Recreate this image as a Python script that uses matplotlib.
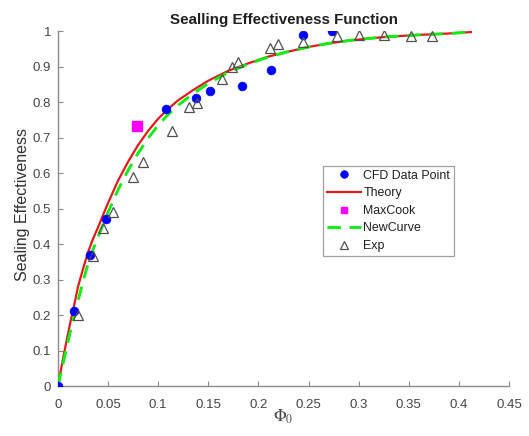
import matplotlib
matplotlib.use("Agg")
import matplotlib.pyplot as plt

plt.rcParams['font.family'] = ['Liberation Sans', 'DejaVu Sans']
plt.rcParams['mathtext.fontset'] = 'stix'

# CFD data points
cfd_x = [0.0, 0.016, 0.032, 0.048, 0.108, 0.138, 0.152, 0.184, 0.213, 0.244, 0.273]
cfd_y = [0.0, 0.21, 0.368, 0.47, 0.78, 0.81, 0.83, 0.845, 0.89, 0.99, 1.0]

# Theory curve
theory_x = [0, 0.004, 0.008, 0.012, 0.016, 0.02, 0.025, 0.03, 0.035, 0.04, 0.045, 0.05,
            0.06, 0.07, 0.08, 0.09, 0.1, 0.11, 0.12, 0.135, 0.15, 0.17, 0.19, 0.21,
            0.23, 0.25, 0.27, 0.29, 0.31, 0.33, 0.36, 0.39, 0.412]
theory_y = [0, 0.062, 0.12, 0.175, 0.226, 0.28, 0.33, 0.377, 0.415, 0.447, 0.482, 0.516,
            0.579, 0.632, 0.679, 0.719, 0.753, 0.781, 0.805, 0.834, 0.86, 0.888, 0.909, 0.928,
            0.942, 0.955, 0.965, 0.973, 0.979, 0.984, 0.989, 0.993, 0.997]

# New curve
new_x = [0, 0.004, 0.008, 0.012, 0.016, 0.02, 0.025, 0.03, 0.035, 0.04, 0.045, 0.05,
         0.06, 0.07, 0.08, 0.09, 0.1, 0.11, 0.12, 0.135, 0.15, 0.17, 0.19, 0.21,
         0.23, 0.25, 0.27, 0.29, 0.31, 0.33, 0.36, 0.39, 0.412]
new_y = [0, 0.05, 0.10, 0.15, 0.195, 0.24, 0.295, 0.345, 0.385, 0.42, 0.455, 0.49,
         0.553, 0.608, 0.656, 0.698, 0.735, 0.765, 0.791, 0.824, 0.852, 0.884, 0.907, 0.927,
         0.942, 0.955, 0.965, 0.973, 0.979, 0.984, 0.989, 0.993, 0.997]

# MaxCook point
maxcook_x = [0.079]
maxcook_y = [0.732]

# Experimental points
exp_x = [0.02, 0.035, 0.045, 0.055, 0.075, 0.085, 0.114, 0.131, 0.139, 0.164, 0.174,
         0.18, 0.212, 0.22, 0.244, 0.278, 0.30, 0.325, 0.352, 0.373]
exp_y = [0.20, 0.366, 0.445, 0.49, 0.59, 0.63, 0.718, 0.786, 0.797, 0.865, 0.90,
         0.913, 0.953, 0.963, 0.969, 0.986, 0.988, 0.989, 0.986, 0.985]

x_ticks = [0, 0.05, 0.1, 0.15, 0.2, 0.25, 0.3, 0.35, 0.4, 0.45]
x_tick_labels = ['0', '0.05', '0.1', '0.15', '0.2', '0.25', '0.3', '0.35', '0.4', '0.45']
y_ticks = [0, 0.1, 0.2, 0.3, 0.4, 0.5, 0.6, 0.7, 0.8, 0.9, 1]
y_tick_labels = ['0', '0.1', '0.2', '0.3', '0.4', '0.5', '0.6', '0.7', '0.8', '0.9', '1']

W, H = 529, 436
fig = plt.figure(figsize=(W / 100, H / 100), dpi=100)
ax = fig.add_axes([58 / W, 50 / H, (509 - 58) / W, (386 - 31) / H])

ax.plot(cfd_x, cfd_y, 'o', color='#0000ff', markersize=6.3, markeredgewidth=0.5,
        label='CFD Data Point', zorder=5)
ax.plot(theory_x, theory_y, '-', color='#e41a1c', linewidth=1.6, label='Theory', zorder=3)
ax.plot(maxcook_x, maxcook_y, 's', color='#ff00ff', markersize=7.8, label='MaxCook', zorder=5)
ax.plot(new_x, new_y, '--', color='#11ee11', linewidth=2.1, dashes=(4.6, 3.0),
        label='NewCurve', zorder=4)
ax.plot(exp_x, exp_y, '^', markerfacecolor='none', markeredgecolor='#505050', markersize=7.8,
        markeredgewidth=0.9, label='Exp', zorder=6)

ax.set_xlim(0, 0.45)
ax.set_ylim(0, 1)
ax.set_xticks(x_ticks)
ax.set_xticklabels(x_tick_labels)
ax.set_yticks(y_ticks)
ax.set_yticklabels(y_tick_labels)

for s in ['top', 'right']:
    ax.spines[s].set_visible(False)
for s in ['left', 'bottom']:
    ax.spines[s].set_color('#8a8a8a')
    ax.spines[s].set_linewidth(1.0)
ax.tick_params(direction='in', length=3.5, colors='#8a8a8a', labelcolor='#454545', labelsize=9.5)
ax.tick_params(axis='x', pad=9)
ax.tick_params(axis='y', pad=5)

ax.set_title('Sealling Effectiveness Function', fontsize=10.9, fontweight='bold',
             color='#202020', pad=5)
ax.set_xlabel(r'$\Phi_0$', fontsize=12, color='#454545')
ax.xaxis.set_label_coords(0.5, -0.062)
ax.set_ylabel('Sealing Effectiveness', fontsize=11.5, color='#303030')
ax.yaxis.set_label_coords(-0.063, 0.51)

leg = ax.legend(loc='upper left', bbox_to_anchor=((323 - 58) / 451, (386 - 166) / 355),
                borderaxespad=0, fontsize=8.9, frameon=True, fancybox=False,
                edgecolor='#8a8a8a', handlelength=2.8, borderpad=0.3, labelspacing=0.45,
                handletextpad=0.15)
leg.get_frame().set_linewidth(0.9)
handles = leg.legend_handles
handles[0].set_markersize(5.5)
handles[2].set_markersize(4.0)
handles[4].set_markersize(6.0)
for t in leg.get_texts():
    t.set_color('#202020')

fig.savefig('out.png', dpi=100)
